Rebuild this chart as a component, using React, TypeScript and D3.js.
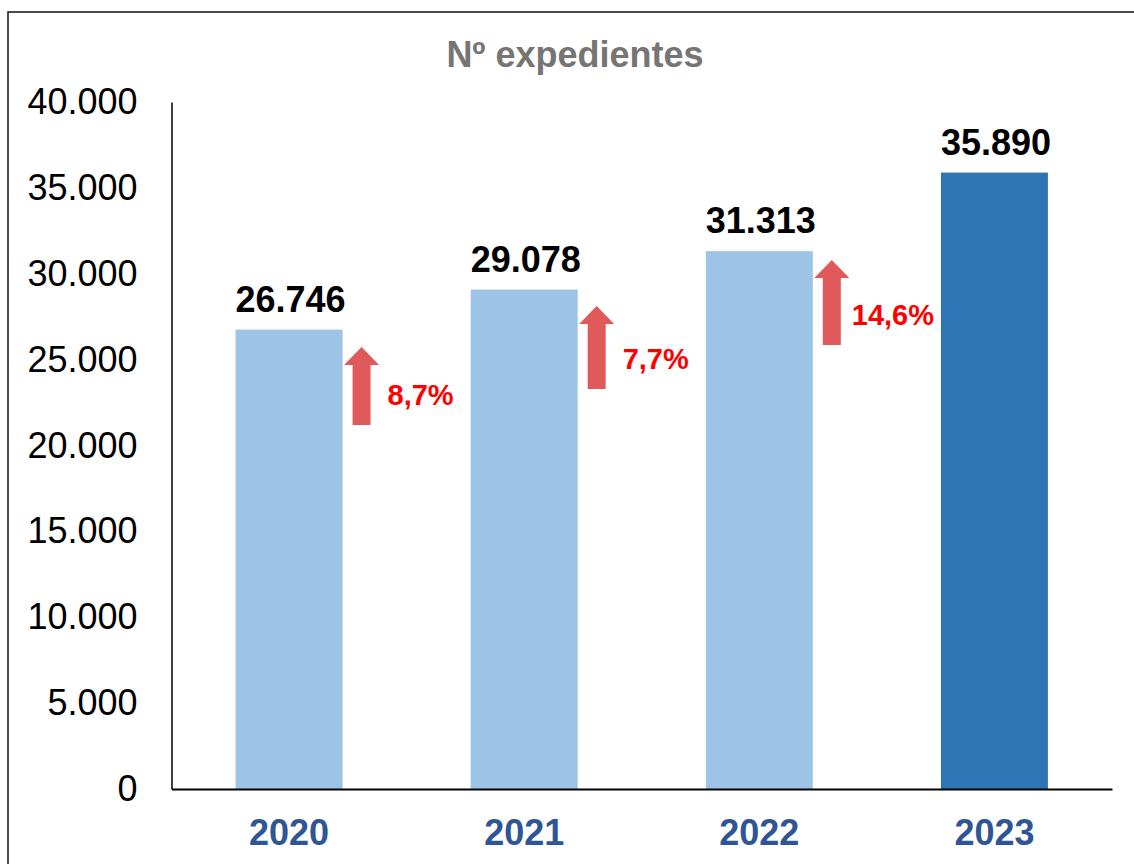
import { useEffect, useRef } from "react"
import * as d3 from "d3"

// chart data
const years = ["2020", "2021", "2022", "2023"]
const expedientes = [26746, 29078, 31313, 35890]
const yTicks = [0, 5000, 10000, 15000, 20000, 25000, 30000, 35000, 40000]

// growth arrows drawn between bars (from bar i to bar i+1)
const growthLabels = ["8,7%", "7,7%", "14,6%"]
const arrowTop = [25735, 28120, 30800]
const arrowBottom = [21190, 23290, 25850]

const W = 1134
const H = 864

const fmt = (v: number) => d3.format(",")(v).replace(/,/g, ".")

const App = () => {
  const svgRef = useRef<SVGSVGElement>(null)

  useEffect(() => {
    const svg = d3.select(svgRef.current)
    svg.selectAll("*").remove()

    const margin = { top: 102, right: 22, bottom: 75, left: 171.5 }
    const x = d3.scaleBand()
      .domain(years)
      .range([margin.left, W - margin.right])
      .paddingInner(0.545)
      .paddingOuter(0.2725)

    const y = d3.scaleLinear()
      .domain([0, 40000])
      .range([H - margin.bottom, margin.top])

    const font = "'Liberation Sans', Arial, sans-serif"

    // outer frame (runs past right and bottom edges)
    svg.append("rect")
      .attr("x", 8).attr("y", 12)
      .attr("width", W + 20).attr("height", H + 20)
      .attr("fill", "white")
      .attr("stroke", "#111").attr("stroke-width", 1.5)

    // title
    svg.append("text")
      .attr("x", 575).attr("y", 67)
      .attr("text-anchor", "middle")
      .attr("font-family", font).attr("font-weight", "bold").attr("font-size", 36)
      .attr("fill", "#777474")
      .text("Nº expedientes")

    // bars
    svg.selectAll(".bar")
      .data(expedientes)
      .enter()
      .append("rect")
      .attr("x", (d, i) => x(years[i])!)
      .attr("y", d => y(d))
      .attr("width", x.bandwidth())
      .attr("height", d => y(0) - y(d))
      .attr("fill", (d, i) => i === years.length - 1 ? "#2E75B6" : "#9DC3E6")

    // value labels
    svg.selectAll(".val")
      .data(expedientes)
      .enter()
      .append("text")
      .attr("x", (d, i) => x(years[i])! + x.bandwidth() / 2 + 1.5)
      .attr("y", d => y(d) - 18)
      .attr("text-anchor", "middle")
      .attr("font-family", font).attr("font-weight", "bold").attr("font-size", 36)
      .attr("fill", "#000")
      .text(d => fmt(d))

    // y axis (no ticks, labels only)
    const yAxis = d3.axisLeft(y).tickValues(yTicks).tickSize(0).tickPadding(34).tickFormat(d => fmt(+d))
    const gy = svg.append("g")
      .attr("transform", `translate(${margin.left},0)`)
      .call(yAxis)
    gy.select(".domain").attr("stroke", "#000").attr("stroke-width", 1.5)
    gy.selectAll("text")
      .attr("font-family", font).attr("font-size", 36).attr("fill", "#000")

    // x axis
    const xAxis = d3.axisBottom(x).tickSize(0).tickPadding(30)
    const gx = svg.append("g")
      .attr("transform", `translate(0,${y(0)})`)
      .call(xAxis)
    gx.select(".domain").attr("stroke", "#000").attr("stroke-width", 2.2)
    gx.selectAll("text")
      .attr("font-family", font).attr("font-weight", "bold").attr("font-size", 36)
      .attr("fill", "#2F5597")

    // growth arrows
    const headW = 35, shaftW = 18, headH = 18
    growthLabels.forEach((label, i) => {
      const right = x(years[i])! + x.bandwidth()
      const cx = right + 19
      const top = y(arrowTop[i])
      const bottom = y(arrowBottom[i])
      const path = d3.path()
      path.moveTo(cx, top)
      path.lineTo(cx + headW / 2, top + headH)
      path.lineTo(cx + shaftW / 2, top + headH)
      path.lineTo(cx + shaftW / 2, bottom)
      path.lineTo(cx - shaftW / 2, bottom)
      path.lineTo(cx - shaftW / 2, top + headH)
      path.lineTo(cx - headW / 2, top + headH)
      path.closePath()
      svg.append("path")
        .attr("d", path.toString())
        .attr("fill", "#E05A5B")

      svg.append("text")
        .attr("x", right + (i === 2 ? 39 : 45))
        .attr("y", bottom - 20)
        .attr("font-family", font).attr("font-weight", "bold").attr("font-size", 29)
        .attr("fill", "#FF0000")
        .text(label)
    })
  }, [])

  return (
    <svg ref={svgRef} width={W} height={H}
      style={{ position: "absolute", left: 0, top: 0, display: "block" }}>
    </svg>
  )
}

export default App
